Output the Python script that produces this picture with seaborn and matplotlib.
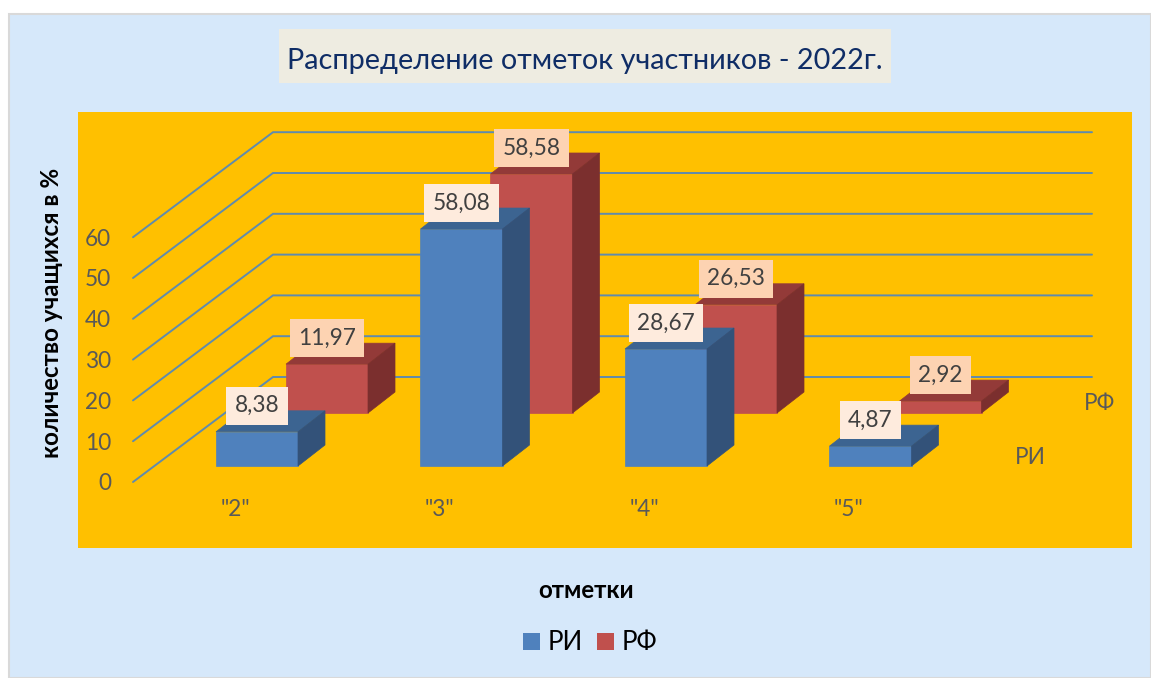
import matplotlib
matplotlib.use("Agg")
import matplotlib.pyplot as plt
from matplotlib.patches import Polygon, Rectangle, Patch
import seaborn as sns
import pandas as pd

categories = ['"2"', '"3"', '"4"', '"5"']
ri_values = [8.38, 58.08, 28.67, 4.87]
rf_values = [11.97, 58.58, 26.53, 2.92]
ri_labels = ["8,38", "58,08", "28,67", "4,87"]
rf_labels = ["11,97", "58,58", "26,53", "2,92"]
grid_values = [0, 10, 20, 30, 40, 50, 60]

W, H = 1151, 678
PX_X = 204.5   # pixels per category
PX_Y = 4.08    # pixels per percent
X0, Y0 = 257, 482  # pixel of category 0, value 0 on the front edge
LABEL_SIZE = 16.3


def fx(px):
    return px / W


def fy(py):
    return 1 - py / H


def extrude(ax, bar, dx, dy, top_color, side_color, zorder):
    x, y, w, h = bar.get_x(), bar.get_y(), bar.get_width(), bar.get_height()
    ax.add_patch(Polygon([(x, y + h), (x + w, y + h), (x + w + dx, y + h + dy), (x + dx, y + h + dy)],
                         facecolor=top_color, edgecolor=top_color, lw=0.5, zorder=zorder))
    ax.add_patch(Polygon([(x + w, y), (x + w + dx, y + dy), (x + w + dx, y + h + dy), (x + w, y + h)],
                         facecolor=side_color, edgecolor=side_color, lw=0.5, zorder=zorder))


def draw_series(ax, values, labels, x_shift, y_shift, colors, label_color, zorder):
    df = pd.DataFrame({"cat": categories, "val": values})
    before = len(ax.patches)
    sns.barplot(data=df, x="cat", y="val", color=colors[0], saturation=1, width=0.401, ax=ax, zorder=zorder,
                edgecolor=colors[0], linewidth=0.5)
    bars = ax.patches[before:]
    for bar in bars:
        bar.set_x(bar.get_x() + x_shift)
        bar.set_y(y_shift)
    for bar in bars:
        extrude(ax, bar, 27 / PX_X, 21 / PX_Y, colors[1], colors[2], zorder)
    for bar, text in zip(bars, labels):
        ax.annotate(text, (bar.get_x() + bar.get_width() / 2, bar.get_y() + bar.get_height()),
                    xytext=(0, 26), textcoords="offset pixels", ha="center", va="center",
                    fontsize=LABEL_SIZE, color="#404040", zorder=20,
                    bbox=dict(boxstyle="square,pad=0.37", facecolor=label_color, edgecolor="none"))


sns.set_theme(style="white")
plt.rcParams["font.family"] = ["Lato", "Open Sans", "DejaVu Sans"]

fig = plt.figure(figsize=(W / 100, H / 100), dpi=100, facecolor="white")
fig.patches.append(Rectangle((fx(9), 0), 1 - fx(9), fy(14), transform=fig.transFigure,
                             facecolor="#D6E8FA", edgecolor="#D9D9D9", lw=1.5, zorder=-5))

ax = fig.add_axes([fx(78), fy(548), fx(1132) - fx(78), fy(112) - fy(548)])
ax.set_facecolor("#FFC000")

# back wall lines and the slanted floor lines
front_x = (133 - X0) / PX_X
end_x = (1092 - X0) / PX_X
for v in grid_values:
    ax.plot([front_x, front_x + 140 / PX_X, end_x], [v, v + 105 / PX_Y, v + 105 / PX_Y],
            color="#5F8BAE", lw=1.4, zorder=1, solid_joinstyle="miter")
    ax.annotate(str(v), ((111 - X0) / PX_X, v), xytext=(0, -2), textcoords="offset pixels",
                ha="right", va="center", fontsize=LABEL_SIZE, color="#595959")

draw_series(ax, rf_values, rf_labels, 70 / PX_X, 69 / PX_Y,
            ("#C0504D", "#933A38", "#7B2F2E"), "#FDD3B2", 3)
draw_series(ax, ri_values, ri_labels, 0, 16 / PX_Y,
            ("#4F81BD", "#3C6491", "#335279"), "#FEEBDD", 5)

for i, cat in enumerate(categories):
    ax.text(i - 22 / PX_X, (Y0 - 510) / PX_Y, cat, ha="center", va="center", fontsize=LABEL_SIZE, color="#595959")
ax.text((1030 - X0) / PX_X, (Y0 - 457) / PX_Y, "РИ", ha="center", va="center", fontsize=LABEL_SIZE, color="#595959")
ax.text((1100 - X0) / PX_X, (Y0 - 403) / PX_Y, "РФ", ha="center", va="center", fontsize=LABEL_SIZE, color="#595959")

ax.set_xlim((78 - X0) / PX_X, (1132 - X0) / PX_X)
ax.set_ylim((Y0 - 548) / PX_Y, (Y0 - 112) / PX_Y)
ax.set_xticks([])
ax.set_yticks([])
ax.set_xlabel("")
ax.set_ylabel("")
sns.despine(ax=ax, left=True, bottom=True)

fig.patches.append(Rectangle((fx(279), fy(83)), fx(891) - fx(279), fy(29) - fy(83), transform=fig.transFigure,
                             facecolor="#EEECE1", edgecolor="none", zorder=-4))
fig.text(fx(585), fy(61), "Распределение отметок участников - 2022г.", ha="center", va="center",
         fontsize=20.8, color="#0F2D66")
fig.text(fx(52), fy(313), "количество учащихся в %", rotation=90, ha="center", va="center",
         fontsize=17.4, fontweight="bold", color="black")
fig.text(fx(586), fy(591), "отметки", ha="center", va="center", fontsize=17.4, fontweight="bold", color="black")

handles = [Patch(facecolor="#4F81BD", edgecolor="none", label="РИ"),
           Patch(facecolor="#C0504D", edgecolor="none", label="РФ")]
fig.legend(handles=handles, loc="center", bbox_to_anchor=(fx(590), fy(643)), ncol=2, frameon=False,
           fontsize=18.5, handlelength=0.66, handleheight=0.66, handletextpad=0.31, columnspacing=0.55,
           labelcolor="black")

fig.savefig("out.png", dpi=100, facecolor="white")
